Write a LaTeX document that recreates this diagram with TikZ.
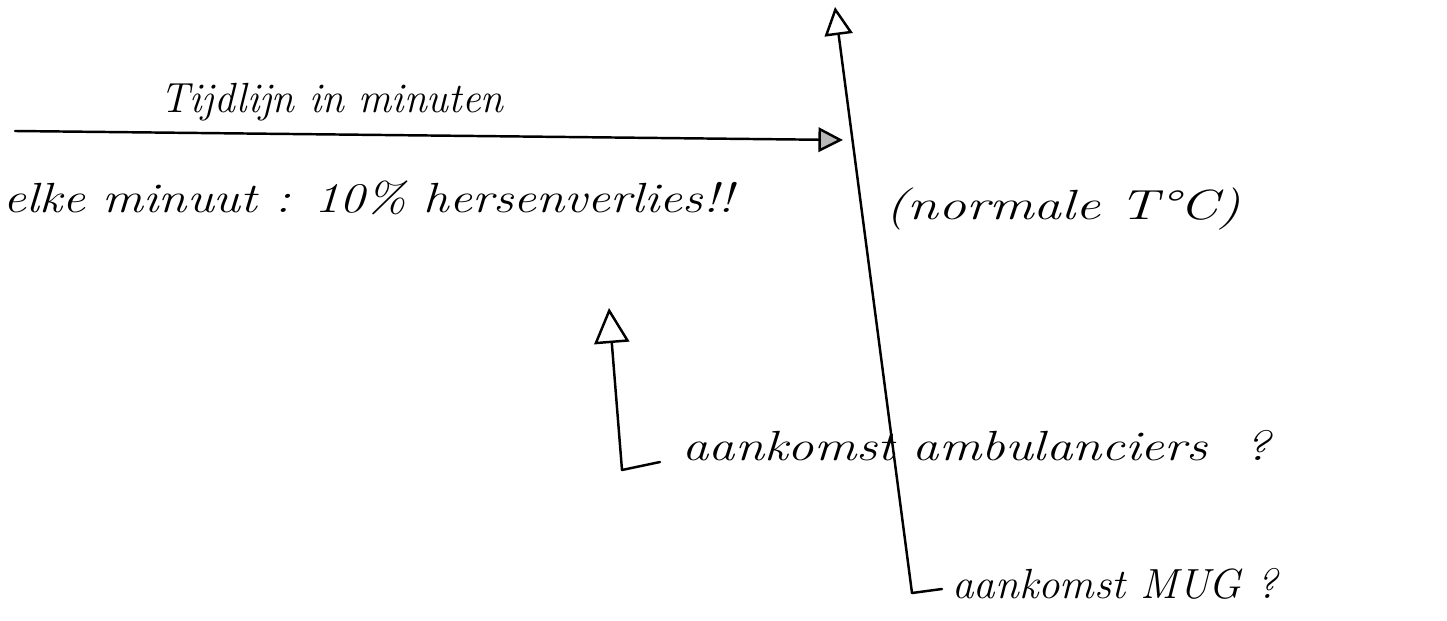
\documentclass[tikz,border=0pt]{standalone}
\usetikzlibrary{arrows.meta}
\newcommand{\hwx}[2]{\scalebox{#1}[1]{#2}}
\tikzset{
  pen/.style={line width=1.4pt, black, line cap=round, line join=round},
  hand/.style={inner sep=0pt, anchor=base west, font=\fontsize{24}{28}\selectfont\itshape},
  openhead/.style={-{Triangle[open, length=#1, width=#1, line width=1.4pt]}},
  greyhead/.style={-{Triangle[length=#1, width=#1, line width=1.4pt, fill=gray!55]}},
}
\begin{document}
\begin{tikzpicture}[x=0.02cm, y=-0.02cm]
\useasboundingbox (0,0) rectangle (1447,621);
\clip (0,0) rectangle (1447,621);
\fill[white] (0,0) rectangle (1447,621);

% coordinates
\coordinate (tlstart) at (15,131);
\coordinate (tlend) at (843,140);
\coordinate (vtop) at (835,7);
\coordinate (vbot) at (912,593);
\coordinate (vfoot) at (942,589);
\coordinate (atop) at (609,308);
\coordinate (abot) at (622,470);
\coordinate (afoot) at (660,462);

% connectors
\draw[pen, greyhead=14pt] (tlstart) -- (tlend);
\draw[pen, openhead=16pt] (vbot) -- (vtop);
\draw[pen] (vbot) -- (vfoot);
\draw[pen, openhead=20pt] (abot) -- (atop);
\draw[pen] (abot) -- (afoot);

% texts
\node[hand] (t1) at (160,113) {\hwx{0.98}{Tijdlijn in minuten}};
\node[hand] (t2) at (3,213) {\hwx{1.21}{elke minuut : 10\% hersenverlies!!}};
\node[hand] (t3) at (885,220) {\hwx{1.32}{(normale T°C)}};
\node[hand] (t4) at (682,460) {\hwx{1.25}{aankomst ambulanciers~~?}};
\node[hand] (t5) at (952,598) {\hwx{1.02}{aankomst MUG ?}};
\end{tikzpicture}
\end{document}
